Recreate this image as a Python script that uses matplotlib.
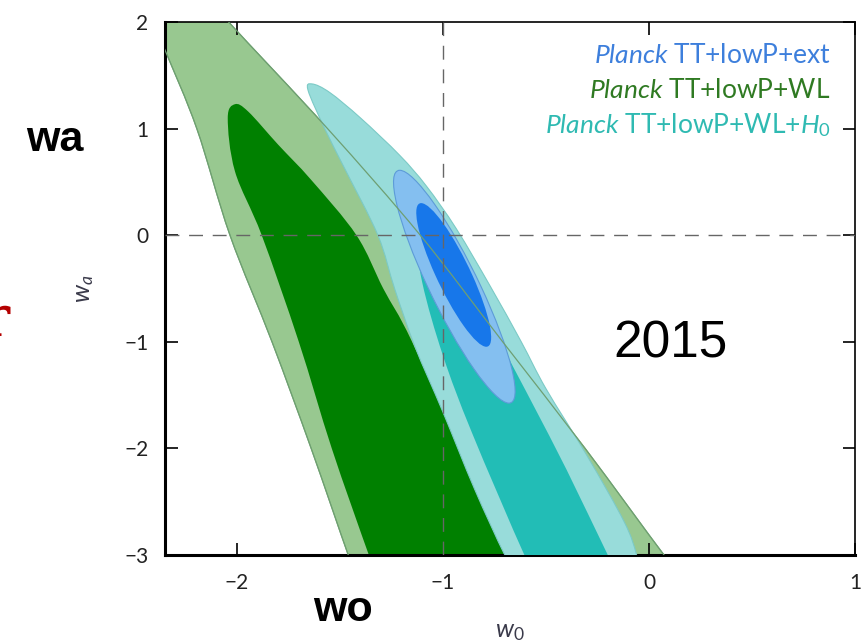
import numpy as np
import matplotlib
matplotlib.use("Agg")
import matplotlib.pyplot as plt
from matplotlib.path import Path
from matplotlib.patches import PathPatch
from matplotlib.transforms import Affine2D

plt.rcParams['font.family'] = ['Lato', 'DejaVu Sans']
plt.rcParams['mathtext.fontset'] = 'custom'
plt.rcParams['mathtext.rm'] = 'Lato'
plt.rcParams['mathtext.it'] = 'Lato:italic'

# contour outlines, as (w0, wa) boundary points
# Planck TT+lowP+WL, 95% region
wl95_w0 = [-2.45, -2.35, -2.195, -2.034, -1.83, -1.64, -1.46, -1.40,
           0.20, 0.073, -0.31, -0.71, -1.11, -1.56, -2.04, -2.17]
wl95_wa = [2.2, 1.74, 1.0, 0.0, -1.0, -2.0, -3.0, -3.3,
           -3.3, -3.0, -2.0, -1.0, 0.0, 1.0, 2.0, 2.3]
# Planck TT+lowP+WL, 68% region
wl68_w0 = [-2.01, -2.045, -2.01, -1.88, -1.70, -1.54, -1.36, -1.30,
           -0.58, -0.66, -0.85, -1.15, -1.29, -1.42, -1.64, -1.80, -1.945]
wl68_wa = [1.23, 1.1, 0.6, 0.0, -1.0, -2.0, -3.0, -3.3,
           -3.3, -3.0, -2.3, -1.0, -0.5, 0.0, 0.52, 0.85, 1.16]
# Planck TT+lowP+WL+H0, 95% region
h095_w0 = [-1.635, -1.55, -1.40, -1.21, -1.08, -0.935, -0.77, -0.62, -0.50, -0.30, -0.12, -0.06, -0.03,
           -0.61, -0.70, -0.847, -1.0, -1.137, -1.235, -1.316, -1.477, -1.574, -1.655]
h095_wa = [1.42, 1.34, 1.10, 0.75, 0.46, 0.06, -0.48, -1.0, -1.44, -2.07, -2.69, -3.0, -3.3,
           -3.3, -3.0, -2.38, -1.66, -1.04, -0.5, 0.0, 0.625, 1.0, 1.36]
# Planck TT+lowP+WL+H0, 68% region
h068_w0 = [-1.12, -1.14, -1.10, -1.0, -0.86, -0.605, -0.52,
           -0.12, -0.20, -0.40, -0.56, -0.72, -0.88, -1.05]
h068_wa = [0.2, 0.1, -0.45, -1.13, -1.85, -3.0, -3.3,
           -3.3, -3.0, -2.2, -1.6, -1.0, -0.3, 0.12]
# Planck TT+lowP+ext: ellipses as centre, major half-axis vector, minor half-axis vector
ext95_c, ext95_a, ext95_b = (-0.945, -0.4825), (0.265, -1.0925), (0.13, 0.0)
ext68_c, ext68_a, ext68_b = (-0.948, -0.372), (0.158, -0.674), (0.09, 0.0)

legend_labels = [r"$\mathit{Planck}$ TT+lowP+ext",
                 r"$\mathit{Planck}$ TT+lowP+WL",
                 r"$\mathit{Planck}$ TT+lowP+WL+$H_0$"]
legend_colors = ['#3d7fdc', '#2f7a22', '#2fbab2']


def smooth_closed(x, y):
    p = np.column_stack([x, y])
    n = len(p)
    verts = [p[0]]
    codes = [Path.MOVETO]
    for i in range(n):
        p0, p1, p2, p3 = p[i - 1], p[i], p[(i + 1) % n], p[(i + 2) % n]
        verts += [p1 + (p2 - p0) / 6, p2 - (p3 - p1) / 6, p2]
        codes += [Path.CURVE4] * 3
    return Path(verts, codes)


def ellipse(c, a, b):
    t = Affine2D.from_values(a[0], a[1], b[0], b[1], c[0], c[1])
    return t.transform_path(Path.unit_circle())


fig = plt.figure(figsize=(8.68, 6.42), dpi=100)
ax = fig.add_axes([0.190, 0.1355, 0.795, 0.830])

wl95 = smooth_closed(wl95_w0, wl95_wa)
ax.add_patch(PathPatch(wl95, fc='#98c890', ec='#78ad72', lw=0.8, zorder=1))
ax.add_patch(PathPatch(smooth_closed(wl68_w0, wl68_wa), fc='#008000', ec='none', zorder=2))
ax.add_patch(PathPatch(smooth_closed(h095_w0, h095_wa), fc='#98dcda', ec='#7ccac6', lw=0.8, zorder=3))
ax.add_patch(PathPatch(smooth_closed(h068_w0, h068_wa), fc='#22bdb6', ec='none', zorder=4))
ax.add_patch(PathPatch(ellipse(ext95_c, ext95_a, ext95_b), fc='#84bff0', ec='#5d9bd8', lw=0.8, zorder=5))
ax.add_patch(PathPatch(ellipse(ext68_c, ext68_a, ext68_b), fc='#1777ea', ec='none', zorder=6))
# the WL outline shows through the other contours
ax.add_patch(PathPatch(wl95, fc='none', ec='#6e9f72', lw=0.9, zorder=7))

ax.axvline(-1, color='#666666', lw=1, ls=(0, (10, 7)), zorder=8)
ax.axhline(0, color='#666666', lw=1, ls=(0, (10, 7)), zorder=8)

ax.set_xlim(-2.35, 1.0)
ax.set_ylim(-3, 2)
ax.set_xticks([-2, -1, 0, 1])
ax.set_yticks([-3, -2, -1, 0, 1, 2])
ax.tick_params(direction='in', length=9, width=1.2, top=True, right=True,
               labelsize=15, labelcolor='#222222')
ax.tick_params(axis='x', pad=13)
ax.tick_params(axis='y', pad=12)
for s in ['left', 'bottom']:
    ax.spines[s].set_linewidth(2.2)
for s in ['top', 'right']:
    ax.spines[s].set_linewidth(1.2)

ax.set_xlabel(r"$w_0$", fontsize=18, color='#3a3a4a')
ax.set_ylabel(r"$w_a$", fontsize=18, color='#3a3a4a')
ax.xaxis.set_label_coords(0.5, -0.122)
ax.yaxis.set_label_coords(-0.10, 0.5)

for i, (lab, col) in enumerate(zip(legend_labels, legend_colors)):
    ax.text(0.965, 0.938 - 0.0655 * i, lab, color=col, fontsize=19,
            ha='right', va='center', transform=ax.transAxes, zorder=10)

fig.text(0.063, 0.782, 'wa', fontsize=31, fontweight='bold', family='Liberation Sans',
         ha='center', va='center')
fig.text(0.395, 0.05, 'wo', fontsize=31, fontweight='bold', family='Liberation Sans',
         ha='center', va='center')
fig.text(0.773, 0.464, '2015', fontsize=37, family='Liberation Sans',
         ha='center', va='center')
fig.text(0.012, 0.477, 'r', fontsize=40, family='DejaVu Serif', color='#b40000',
         ha='right', va='baseline')

fig.savefig('out.png', dpi=100)
